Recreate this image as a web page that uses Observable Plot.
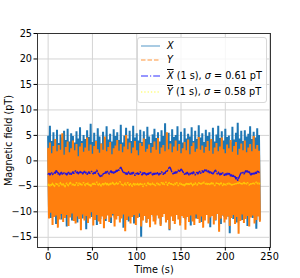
<!DOCTYPE html>
<html><head><meta charset="utf-8">
<script src="https://cdn.jsdelivr.net/npm/d3@7"></script>
<script src="https://cdn.jsdelivr.net/npm/@observablehq/plot@0.6"></script>
<style>
body{margin:0;background:#fff;}
#wrap{position:relative;width:300px;height:278px;font-family:"DejaVu Sans",sans-serif;}
#legend{position:absolute;left:137px;top:37px;width:128px;height:64px;border:1px solid #d8d8d8;border-radius:3px;background:rgba(255,255,255,0.8);font-size:9.7px;color:#000;}
.row{position:absolute;left:0;width:128px;height:14px;}
.row svg{position:absolute;left:3px;top:4px;}
.row .t{position:absolute;left:29px;top:0;line-height:14px;white-space:nowrap;}
.ov{text-decoration:overline;font-style:italic;}
</style></head>
<body><div id="wrap"></div>
<script>
// time stamps (s), one sample per second
const seconds = d3.range(0, 240);

// raw X component (pT)
const xRaw = [
4.8,-9.6,6.9,-11.2,3.9,-10.1,5.6,-8.9,4.2,-12.4,6.1,-9.8,3.5,-10.7,5.2,-11.5,4.6,-9.3,5.9,-10.4,
4.1,-12.9,6.3,-9.5,3.8,-10.8,5.4,-11.7,4.9,-9.9,3.6,-10.3,5.8,-12.1,4.4,-9.2,6.6,-10.9,3.9,-11.3,
5.1,-10.0,4.3,-13.4,6.0,-9.7,4.7,-10.6,7.3,-11.0,3.7,-9.4,5.5,-10.2,4.0,-12.6,6.4,-9.8,4.8,-11.4,
3.4,-10.5,5.7,-9.1,4.5,-11.8,6.8,-10.3,4.2,-9.6,5.3,-12.2,3.8,-10.7,6.2,-11.1,4.9,-9.4,5.6,-10.0,
4.1,-11.6,7.1,-9.9,3.6,-13.1,5.0,-10.4,6.5,-9.3,4.4,-11.9,5.9,-10.8,3.9,-9.7,6.9,-12.3,4.6,-10.2,
5.4,-9.5,4.0,-11.0,6.1,-14.9,3.7,-10.1,5.8,-9.8,4.3,-12.0,6.7,-10.6,4.8,-11.4,3.5,-9.2,5.2,-10.9,
6.3,-11.7,4.5,-9.6,5.6,-10.3,3.8,-12.5,6.0,-10.0,4.9,-9.4,7.4,-11.2,4.2,-10.7,5.5,-13.6,3.9,-9.9,
6.2,-10.4,4.7,-11.8,5.1,-9.3,6.8,-10.6,4.0,-12.2,5.7,-9.7,3.6,-10.9,6.4,-11.5,4.4,-9.5,5.3,-10.1,
4.8,-12.7,6.6,-9.8,3.9,-10.5,5.9,-11.3,4.3,-9.0,7.0,-10.8,4.6,-12.0,5.4,-9.6,3.7,-11.1,6.1,-10.2,
4.9,-9.4,5.6,-13.0,4.1,-10.6,6.5,-9.9,3.8,-11.7,5.2,-10.3,6.9,-9.2,4.5,-12.4,5.8,-10.7,4.0,-11.0,
6.3,-9.7,4.7,-10.9,5.0,-14.2,3.6,-9.5,6.7,-11.4,4.2,-10.0,5.5,-12.1,7.5,-9.8,4.4,-10.6,5.9,-11.6,
3.9,-9.3,6.0,-10.8,4.8,-12.8,5.3,-9.9,6.8,-10.4,4.3,-11.2,5.7,-9.6,4.6,-13.3,6.4,-10.1,5.1,-11.5
];

// raw Y component (pT)
const yRaw = [
2.4,-11.3,3.6,-10.2,1.5,-12.6,2.9,-11.0,4.3,-10.7,1.9,-13.1,3.1,-11.5,2.2,-10.4,5.4,-12.0,1.2,-11.2,
2.7,-10.6,3.8,-12.8,1.7,-11.1,2.5,-10.3,4.0,-11.8,2.1,-12.3,3.3,-10.9,0.9,-11.4,2.8,-13.6,3.5,-10.5,
1.8,-11.7,2.6,-10.8,4.6,-12.2,2.0,-11.3,3.2,-10.1,1.4,-12.7,2.9,-11.6,3.9,-10.6,2.3,-11.9,1.6,-12.4,
3.4,-10.9,2.2,-13.2,4.8,-11.4,1.9,-10.7,2.7,-12.0,3.7,-11.1,1.3,-10.4,2.5,-12.9,3.0,-11.5,4.1,-10.8,
2.0,-12.1,3.3,-11.3,1.7,-10.5,2.8,-13.8,5.1,-11.6,2.3,-10.9,3.6,-12.3,1.5,-11.0,2.6,-10.6,3.9,-12.6,
2.1,-11.2,1.1,-10.3,3.5,-12.9,2.9,-11.7,4.4,-10.8,1.8,-12.2,2.4,-11.4,3.2,-13.0,1.6,-10.6,2.7,-11.9,
3.8,-12.5,2.2,-10.7,4.5,-11.3,1.4,-12.8,2.6,-11.0,3.1,-10.4,1.9,-12.1,5.6,-11.6,2.3,-13.4,3.4,-10.9,
1.7,-11.8,2.8,-12.4,4.0,-10.6,2.0,-11.5,3.3,-12.7,1.5,-10.8,2.5,-11.2,3.7,-13.5,2.1,-11.0,4.2,-12.0,
1.3,-10.7,2.9,-11.9,3.6,-12.6,1.8,-10.5,2.4,-11.4,4.7,-12.2,2.2,-10.9,3.0,-13.1,1.6,-11.7,2.7,-10.6,
3.9,-12.3,2.0,-11.1,4.3,-10.8,1.4,-12.5,2.6,-11.6,3.5,-10.4,1.9,-13.9,2.8,-11.3,4.6,-10.7,2.3,-12.1,
1.5,-11.5,3.2,-10.9,2.5,-12.8,4.1,-11.2,1.8,-10.6,2.9,-12.4,3.7,-11.0,1.2,-14.3,2.4,-11.8,3.4,-10.5,
2.1,-12.2,4.0,-11.4,1.7,-10.8,2.6,-12.9,3.3,-11.1,1.9,-10.7,4.9,-12.3,2.4,-11.6,3.1,-10.9,2.0,-11.8
];

// 1 s averages (pT)
const xMean = [
-2.6,-2.4,-2.8,-2.5,-2.3,-2.7,-2.4,-2.2,-2.5,-1.9,-2.1,-2.6,-2.3,-2.8,-2.4,-2.2,-2.7,-2.5,-2.3,-2.6,
-2.4,-2.8,-2.5,-2.2,-2.6,-2.3,-2.7,-2.4,-2.1,-2.5,-2.2,-1.9,-2.4,-2.1,-2.6,-2.3,-2.0,-2.4,-2.2,-2.6,
-2.3,-2.0,-2.5,-2.2,-2.7,-2.4,-2.1,-2.5,-2.3,-2.0,-2.4,-2.6,-2.2,-2.5,-2.1,-1.8,-2.3,-2.6,-2.9,-3.1,
-2.8,-3.0,-2.6,-2.3,-2.5,-2.1,-2.4,-2.0,-2.3,-2.6,-2.2,-1.9,-2.4,-2.1,-2.5,-2.0,-2.3,-1.8,-2.1,-1.6,
-1.9,-1.5,-1.2,-1.6,-2.0,-2.4,-2.2,-2.6,-2.3,-2.7,-2.4,-2.1,-2.5,-2.8,-2.3,-2.6,-2.2,-2.5,-2.9,-2.4,
-2.6,-2.3,-2.7,-2.4,-2.1,-2.5,-2.8,-2.3,-2.6,-2.2,-2.5,-2.9,-2.4,-2.7,-2.3,-2.6,-2.2,-2.5,-2.8,-2.4,
-2.7,-2.3,-2.6,-2.2,-2.5,-2.8,-2.4,-2.6,-2.1,-2.4,-2.7,-2.3,-2.5,-2.0,-2.2,-1.8,-1.5,-1.2,-1.4,-1.9,
-2.3,-2.6,-2.2,-2.5,-2.1,-2.4,-2.0,-1.8,-2.2,-1.9,-1.6,-1.8,-2.1,-2.4,-2.7,-2.3,-2.6,-2.2,-2.5,-2.8,
-2.4,-2.7,-2.3,-2.6,-2.1,-2.5,-2.8,-2.4,-2.2,-2.6,-2.3,-2.0,-2.5,-2.2,-1.9,-2.3,-2.0,-1.7,-2.1,-1.8,
-2.2,-1.9,-2.4,-2.1,-2.5,-2.2,-2.6,-2.3,-2.0,-1.8,-2.3,-2.6,-2.2,-2.5,-2.8,-2.4,-2.7,-2.3,-2.6,-2.9,
-2.5,-2.8,-2.4,-2.7,-2.3,-2.6,-3.0,-2.7,-3.1,-2.8,-3.3,-3.0,-3.6,-3.2,-3.9,-3.4,-3.0,-2.6,-2.3,-2.5,
-2.2,-2.6,-2.3,-1.9,-2.2,-1.8,-2.4,-2.1,-2.5,-2.8,-2.4,-2.7,-2.3,-2.6,-2.2,-2.5,-2.1,-1.9,-2.3,-2.2
];
const yMean = [
-4.8,-4.5,-5.0,-4.6,-4.9,-4.3,-4.7,-5.1,-4.6,-4.4,-4.8,-4.5,-5.0,-4.7,-4.2,-4.6,-4.9,-4.4,-4.8,-5.2,
-4.6,-4.3,-4.7,-4.9,-4.5,-4.1,-4.6,-4.8,-4.4,-4.7,-5.0,-4.5,-4.2,-4.6,-4.9,-4.3,-4.7,-4.4,-4.8,-4.5,
-4.2,-4.6,-4.9,-4.4,-4.7,-4.3,-4.8,-4.5,-5.1,-4.6,-4.4,-4.8,-4.3,-4.7,-4.5,-4.1,-4.6,-4.9,-4.4,-4.7,
-5.0,-4.6,-4.3,-4.8,-4.5,-4.2,-4.7,-4.4,-4.9,-4.6,-4.3,-4.7,-4.5,-4.1,-4.6,-4.8,-4.4,-4.2,-4.7,-4.5,
-4.3,-4.0,-4.4,-4.7,-4.5,-4.9,-4.6,-4.3,-4.8,-4.5,-4.2,-4.6,-4.9,-4.4,-4.7,-5.0,-4.6,-4.3,-4.8,-4.5,
-4.7,-4.4,-4.9,-4.6,-4.3,-4.8,-4.5,-5.1,-4.7,-4.4,-4.6,-4.9,-4.5,-4.2,-4.7,-4.4,-4.8,-4.6,-4.3,-4.7,
-4.5,-4.9,-4.6,-4.3,-4.7,-4.4,-4.8,-4.5,-4.2,-4.6,-4.3,-4.7,-4.4,-4.1,-4.5,-4.8,-4.4,-4.2,-4.6,-4.3,
-4.7,-4.5,-4.8,-4.4,-4.6,-4.2,-4.5,-4.9,-4.6,-4.3,-4.7,-4.4,-4.8,-4.5,-5.0,-4.6,-4.3,-4.7,-4.4,-4.8,
-4.5,-4.2,-4.6,-4.9,-4.4,-4.7,-4.3,-4.6,-4.8,-4.5,-4.2,-4.6,-4.4,-4.7,-4.3,-4.5,-4.1,-4.4,-4.6,-4.3,
-4.7,-4.4,-4.8,-4.5,-4.2,-4.6,-4.3,-4.7,-4.9,-4.5,-4.3,-4.6,-4.4,-4.8,-4.5,-4.2,-4.6,-4.9,-4.4,-4.7,
-4.5,-4.8,-4.4,-4.6,-4.3,-4.7,-4.5,-4.9,-4.6,-4.8,-4.5,-4.7,-4.4,-4.6,-4.3,-4.5,-4.2,-4.6,-4.4,-4.7,
-4.4,-4.1,-4.5,-4.3,-4.6,-4.2,-4.5,-4.8,-4.4,-4.6,-4.3,-4.5,-4.2,-4.6,-4.4,-4.1,-4.5,-4.3,-4.6,-4.4
];

const sigmaX = 0.61, sigmaY = 0.58;
const xTicks = [0, 50, 100, 150, 200, 250];
const yTicks = [-15, -10, -5, 0, 5, 10, 15, 20, 25];

const series = [
  {label: '<i>X</i>', values: xRaw, color: "#1f77b4", dash: null, width: 2.0, legendWidth: 1.4, opacity: 1, legendOpacity: 0.55},
  {label: '<i>Y</i>', values: yRaw, color: "#ff7f0e", dash: null, legendDash: "4.5,2", width: 2.0, legendWidth: 1.4, opacity: 1, legendOpacity: 0.55},
  {label: `<span class="ov">X</span> (1 s), <i>σ</i> = ${sigmaX.toFixed(2)} pT`, values: xMean, color: "#0000ff", dash: "7,2,1.2,2", width: 1.4, legendWidth: 1.3, opacity: 0.85, legendOpacity: 0.55},
  {label: `<span class="ov">Y</span> (1 s), <i>σ</i> = ${sigmaY.toFixed(2)} pT`, values: yMean, color: "#ffff00", dash: "1.3,2", width: 1.4, legendWidth: 1.4, opacity: 0.55, legendOpacity: 0.5}
];

const fmt = d => d < 0 ? "\u2212" + Math.abs(d) : String(d);

const lineMarks = series.map(s => Plot.line(s.values, {
  x: (d, i) => seconds[i], y: d => d,
  stroke: s.color, strokeWidth: s.width, strokeOpacity: s.opacity,
  strokeDasharray: s.dash ?? undefined, strokeLinejoin: "miter", strokeMiterlimit: 1
}));

const chart = Plot.plot({
  width: 300, height: 278,
  marginLeft: 37, marginRight: 30, marginTop: 33, marginBottom: 31,
  x: {domain: [-12, 251]},
  y: {domain: [-17, 25]},
  style: {fontFamily: "DejaVu Sans", fontSize: "9.7px", background: "#fff", color: "#000"},
  marks: [
    Plot.gridX(xTicks, {stroke: "#d4d4d4", strokeOpacity: 1, strokeWidth: 1}),
    Plot.gridY(yTicks, {stroke: "#d4d4d4", strokeOpacity: 1, strokeWidth: 1}),
    ...lineMarks,
    Plot.frame({stroke: "#222", strokeWidth: 0.9}),
    Plot.axisX(xTicks, {tickSize: 3.5, tickPadding: 2, tickFormat: fmt, label: "Time (s)", labelAnchor: "center", labelArrow: "none", labelOffset: 25}),
    Plot.axisY(yTicks, {tickSize: 3.5, tickPadding: 2, tickFormat: fmt, label: "Magnetic field (pT)", labelAnchor: "center", labelArrow: "none", labelOffset: 32})
  ]
});

const wrap = document.getElementById("wrap");
wrap.appendChild(chart);

const legend = document.createElement("div");
legend.id = "legend";
const rowTops = [0.5, 14.5, 31, 47];
series.forEach((s, i) => {
  const row = document.createElement("div");
  row.className = "row";
  row.style.top = rowTops[i] + "px";
  const dash = s.legendDash || s.dash;
  row.innerHTML = `<svg width="20" height="6"><line x1="0" x2="19" y1="3" y2="3" stroke="${s.color}" stroke-width="${s.legendWidth}" stroke-opacity="${s.legendOpacity}" ${dash ? `stroke-dasharray="${dash}"` : ""}/></svg><span class="t">${s.label}</span>`;
  legend.appendChild(row);
});
wrap.appendChild(legend);
</script>
</body></html>
